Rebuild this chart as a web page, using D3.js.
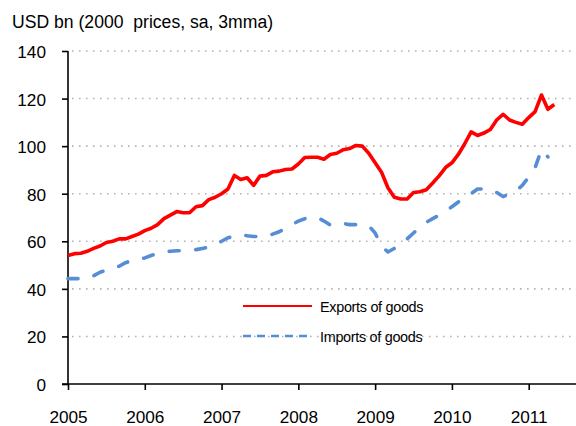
<!DOCTYPE html>
<html>
<head>
<meta charset="utf-8">
<script src="https://cdn.jsdelivr.net/npm/d3@7/dist/d3.min.js"></script>
<style>
  html, body { margin: 0; padding: 0; background: #fff; }
  svg { display: block; font-family: "Liberation Sans", Arial, sans-serif; }
</style>
</head>
<body>
<svg id="chart" width="576" height="426"></svg>
<script>
// monthly values, first point = Jan 2005
const startYear = 2005;
const exportsOfGoods = [
  54, 54.8, 55, 55.8, 57, 58, 59.5, 60, 61, 61, 62, 63,
  64.5, 65.5, 67, 69.5, 71, 72.5, 72, 72, 74.5, 75, 77.5, 78.5,
  80, 82, 87.7, 86, 86.7, 83.5, 87.4, 87.7, 89.2, 89.5, 90.2, 90.4,
  92.5, 95.2, 95.3, 95.3, 94.5, 96.5, 97, 98.5, 99, 100.3, 100, 97,
  93, 89, 82.5, 78.5, 77.8, 77.8, 80.5, 80.8, 81.7, 84.5, 87.5, 91,
  93, 96.5, 101, 106, 104.5, 105.5, 107, 111, 113.4, 111, 110, 109.2,
  112, 114.5, 121.5, 115.5, 117.5
];
const importsOfGoods = [
  44.3, 44.3, 44.3, 44.3, 45.5, 47, 47.8, 48.3, 49.5, 51, 52, 52.2,
  53, 54, 55, 55.6, 55.8, 56, 56, 56, 56.5, 57, 57.5, 58.5,
  60, 61.5, 62, 62.8, 62.3, 62, 62, 62, 63, 64, 65.5, 67,
  68.5, 69.5, 70, 70, 68.5, 66.8, 67.5, 67.5, 67, 67, 66.8, 66.5,
  63.5, 58, 55.5, 57, 58.6, 61, 63.5, 66, 68, 69.5, 71, 72.8,
  74.5, 76.5, 78, 80, 82, 82, 82, 80.5, 78.8, 80, 81.2, 83.5,
  87, 91, 98.5, 95.5
];
const yTicks = [0, 20, 40, 60, 80, 100, 120, 140];
const yearTicks = [2005, 2006, 2007, 2008, 2009, 2010, 2011];
const unitLabel = "USD bn (2000  prices, sa, 3mma)";
const seriesNames = ["Exports of goods", "Imports of goods"];

const width = 576, height = 426;
const plotLeft = 68, plotBottom = 384, plotTop = 51;
const svg = d3.select("#chart");

const x = d3.scaleLinear().domain([2005, 2011]).range([plotLeft, 528.7]);
const y = d3.scaleLinear().domain([0, 140]).range([plotBottom, plotTop]);

// dotted gridlines
svg.append("g").selectAll("line").data(yTicks.filter(d => d > 0)).join("line")
  .attr("x1", plotLeft + 4).attr("x2", 574)
  .attr("y1", d => y(d)).attr("y2", d => y(d))
  .attr("stroke", "#b4b4b4").attr("stroke-width", 1.6)
  .attr("stroke-dasharray", "1.6,5.4");

// y axis
const yAxis = svg.append("g").attr("transform", `translate(${plotLeft},0)`)
  .call(d3.axisLeft(y).tickValues(yTicks).tickSize(6).tickPadding(16));
yAxis.select(".domain").attr("stroke", "#000").attr("stroke-width", 1.6).attr("d", `M0,${plotBottom}V${plotTop}`);
yAxis.selectAll(".tick line").attr("stroke", "#000").attr("stroke-width", 1.6);
yAxis.selectAll(".tick text").attr("font-size", 17.2).attr("fill", "#000")
  .attr("font-family", "Liberation Sans, Arial, sans-serif").attr("dy", "0.38em");

// x axis
const xAxis = svg.append("g").attr("transform", `translate(0,${plotBottom})`)
  .call(d3.axisBottom(x).tickValues(yearTicks).tickFormat(d3.format("d")).tickSize(6).tickPadding(21));
xAxis.select(".domain").attr("stroke", "#000").attr("stroke-width", 1.6).attr("d", `M${plotLeft - 6},0H${width}`);
xAxis.selectAll(".tick line").attr("stroke", "#000").attr("stroke-width", 1.6);
xAxis.selectAll(".tick text").attr("font-size", 17.2).attr("fill", "#000")
  .attr("font-family", "Liberation Sans, Arial, sans-serif");

// unit label
svg.append("text").attr("x", 12).attr("y", 28).attr("font-size", 17.6).attr("fill", "#000")
  .style("white-space", "pre").text(unitLabel);

const line = d3.line()
  .x((d, i) => x(startYear + i / 12))
  .y(d => y(d))
  .curve(d3.curveLinear);

svg.append("path").datum(importsOfGoods).attr("d", line)
  .attr("fill", "none").attr("stroke", "#558ED5").attr("stroke-width", 3.6)
  .attr("stroke-linecap", "round").attr("stroke-linejoin", "round")
  .attr("stroke-dasharray", "10,16.6");

svg.append("path").datum(exportsOfGoods).attr("d", line)
  .attr("fill", "none").attr("stroke", "#ff0000").attr("stroke-width", 3.6)
  .attr("stroke-linejoin", "round");

// legend
const legend = svg.append("g").attr("transform", "translate(243,306)");
legend.append("line").attr("x1", 0).attr("x2", 69).attr("y1", 0).attr("y2", 0)
  .attr("stroke", "#ff0000").attr("stroke-width", 2);
legend.append("text").attr("x", 77).attr("y", 5.5).attr("font-size", 14.4).attr("fill", "#000")
  .attr("letter-spacing", -0.3).text(seriesNames[0]);
legend.append("line").attr("x1", 0).attr("x2", 66).attr("y1", 30).attr("y2", 30)
  .attr("stroke", "#558ED5").attr("stroke-width", 2.6).attr("stroke-dasharray", "8,6");
legend.append("text").attr("x", 77).attr("y", 35.5).attr("font-size", 14.4).attr("fill", "#000")
  .attr("letter-spacing", -0.3).text(seriesNames[1]);
</script>
</body>
</html>
